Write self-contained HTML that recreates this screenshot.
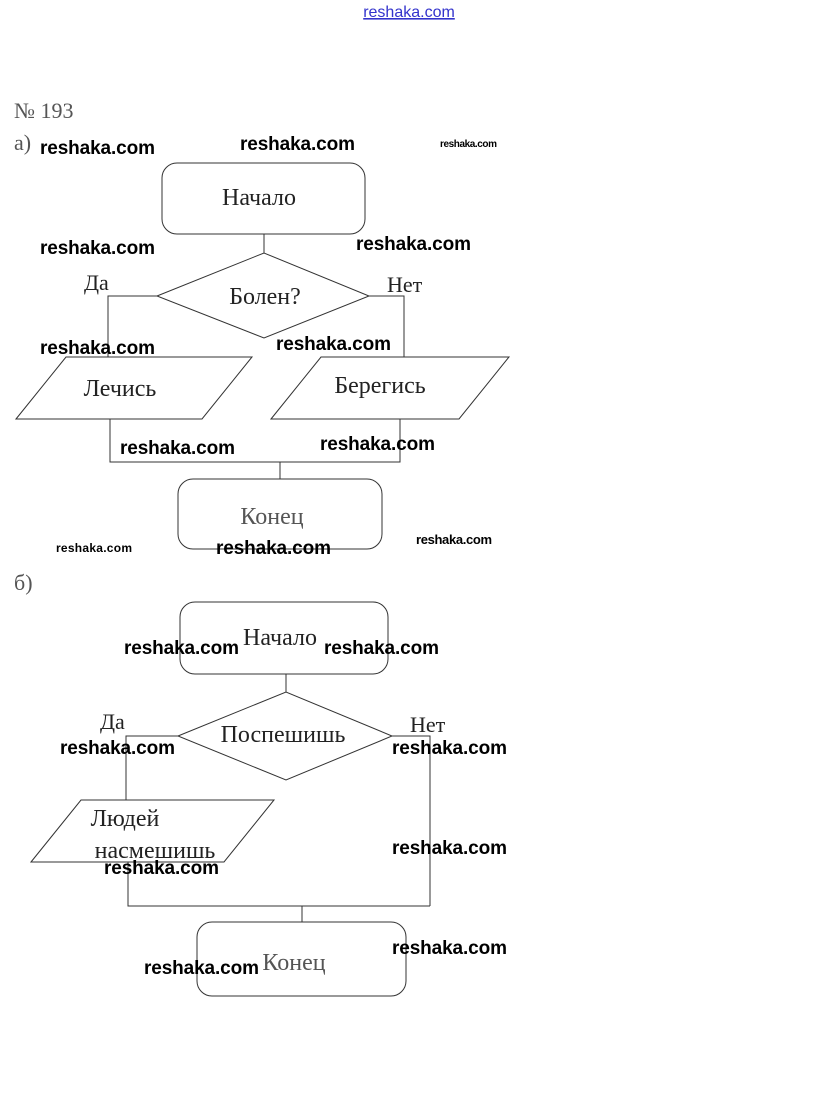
<!DOCTYPE html>
<html><head><meta charset="utf-8"><style>
html,body{margin:0;padding:0;background:#fff;}
svg{display:block;}
.s{font-family:"Liberation Serif","DejaVu Serif",serif;fill:#222;}
.w{font-family:"Liberation Sans","DejaVu Sans",sans-serif;font-weight:bold;fill:#000;}
</style></head><body>
<svg width="815" height="1094" viewBox="0 0 815 1094" xmlns="http://www.w3.org/2000/svg">
<g fill="none" stroke="#333" stroke-width="1">
<rect x="162" y="163" width="203" height="71" rx="15"/>
<line x1="264" y1="234" x2="264" y2="253"/>
<polygon points="157,296 264,253 369,296 264,338"/>
<polyline points="157,296 108,296 108,357"/>
<polyline points="369,296 404,296 404,357"/>
<polygon points="16,419 66,357 252,357 202,419"/>
<polygon points="271,419 321,357 509,357 459,419"/>
<polyline points="110,419 110,462 400,462 400,419"/>
<line x1="280" y1="462" x2="280" y2="479"/>
<rect x="178" y="479" width="204" height="70" rx="15"/>
<rect x="180" y="602" width="208" height="72" rx="15"/>
<line x1="286" y1="674" x2="286" y2="692"/>
<polygon points="178,736 286,692 392,736 286,780"/>
<polyline points="178,736 126,736 126,800"/>
<polyline points="392,736 430,736 430,906"/>
<polygon points="31,862 81,800 274,800 224,862"/>
<polyline points="128,862 128,906 430,906"/>
<line x1="302" y1="906" x2="302" y2="922"/>
<rect x="197" y="922" width="209" height="74" rx="15"/>
</g>
<text x="409" y="17" text-anchor="middle" font-family="Liberation Sans,sans-serif" font-size="16" fill="#3333cc" text-decoration="underline">reshaka.com</text>
<g class="s" font-size="24">
<text x="14" y="118" fill="#555" font-size="22">№ 193</text>
<text x="14" y="150" fill="#555" font-size="22">а)</text>
<text x="259" y="205" text-anchor="middle">Начало</text>
<text x="265" y="304" text-anchor="middle">Болен?</text>
<text x="84" y="290" font-size="22">Да</text>
<text x="387" y="292" font-size="22">Нет</text>
<text x="120" y="396" text-anchor="middle">Лечись</text>
<text x="380" y="393" text-anchor="middle">Берегись</text>
<text x="272" y="524" text-anchor="middle" fill="#555">Конец</text>
<text x="14" y="590" fill="#555" font-size="22">б)</text>
<text x="280" y="645" text-anchor="middle">Начало</text>
<text x="283" y="742" text-anchor="middle">Поспешишь</text>
<text x="100" y="729" font-size="22">Да</text>
<text x="410" y="732" font-size="22">Нет</text>
<text x="125" y="826" text-anchor="middle">Людей</text>
<text x="155" y="858" text-anchor="middle">насмешишь</text>
<text x="294" y="970" text-anchor="middle" fill="#555">Конец</text>
</g>
<g class="w" font-size="19">
<text x="40" y="154" textLength="115">reshaka.com</text>
<text x="240" y="150" textLength="115">reshaka.com</text>
<text x="440" y="147" font-size="10" textLength="57">reshaka.com</text>
<text x="40" y="254" textLength="115">reshaka.com</text>
<text x="356" y="250" textLength="115">reshaka.com</text>
<text x="40" y="354" textLength="115">reshaka.com</text>
<text x="276" y="350" textLength="115">reshaka.com</text>
<text x="120" y="454" textLength="115">reshaka.com</text>
<text x="320" y="450" textLength="115">reshaka.com</text>
<text x="56" y="552" font-size="12" textLength="76">reshaka.com</text>
<text x="216" y="554" textLength="115">reshaka.com</text>
<text x="416" y="544" font-size="13" textLength="76">reshaka.com</text>
<text x="124" y="654" textLength="115">reshaka.com</text>
<text x="324" y="654" textLength="115">reshaka.com</text>
<text x="60" y="754" textLength="115">reshaka.com</text>
<text x="392" y="754" textLength="115">reshaka.com</text>
<text x="392" y="854" textLength="115">reshaka.com</text>
<text x="104" y="874" textLength="115">reshaka.com</text>
<text x="392" y="954" textLength="115">reshaka.com</text>
<text x="144" y="974" textLength="115">reshaka.com</text>
</g>
</svg>
</body></html>
